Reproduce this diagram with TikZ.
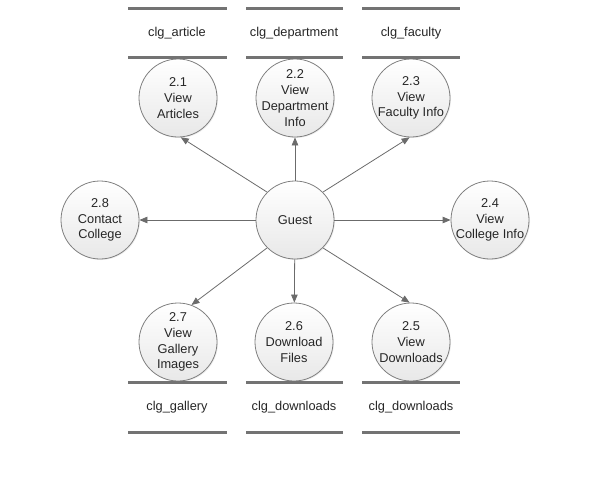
\documentclass[tikz,border=0pt]{standalone}
\usepackage{fontspec}
\setmainfont{Liberation Sans}
\usetikzlibrary{arrows.meta,shadows}

\begin{document}
\begin{tikzpicture}[x=1pt,y=-1pt,line cap=butt,
  proc/.style={circle,draw=black!50,line width=0.8pt,minimum size=78pt,inner sep=-14pt,
    top color=white,bottom color=black!9,align=center,text=black!85,
    drop shadow={shadow xshift=1pt,shadow yshift=-1pt,opacity=0.15},
    font=\fontsize{12.8}{15.8}\selectfont},
  flow/.style={draw=black!58,line width=0.8pt,-{Triangle[length=8pt,width=6.5pt]}},
  storeline/.style={draw=black!55,line width=3pt},
  storetext/.style={text=black!85,font=\fontsize{12.8}{15}\selectfont}]
  \useasboundingbox (0,0) rectangle (593,482);
  % processes
  \node[proc] (guest) at (295,220) {Guest};
  \node[proc] (p21) at (178,98) {2.1\\View\\Articles};
  \node[proc] (p22) at (295,98) {2.2\\View\\Department\\Info};
  \node[proc] (p23) at (411,98) {2.3\\View\\Faculty Info};
  \node[proc] (p24) at (490,220) {2.4\\View\\College Info};
  \node[proc] (p25) at (411,342) {2.5\\View\\Downloads};
  \node[proc] (p26) at (294,342) {2.6\\Download\\Files};
  \node[proc] (p27) at (178,342) {2.7\\View\\Gallery\\Images};
  \node[proc] (p28) at (100,220) {2.8\\Contact\\College};
  % data stores
  \draw[storeline] (128,8) -- (227,8) (128,57) -- (227,57);
  \draw[storeline] (246,8) -- (343,8) (246,57) -- (343,57);
  \draw[storeline] (362,8) -- (460,8) (362,57) -- (460,57);
  \draw[storeline] (128,382) -- (227,382) (128,432) -- (227,432);
  \draw[storeline] (246,382) -- (343,382) (246,432) -- (343,432);
  \draw[storeline] (362,382) -- (460,382) (362,432) -- (460,432);
  \node[storetext] (dsarticle) at (177,33) {clg\_article};
  \node[storetext] (dsdepartment) at (294,33) {clg\_department};
  \node[storetext] (dsfaculty) at (411,33) {clg\_faculty};
  \node[storetext] (dsgallery) at (177,407) {clg\_gallery};
  \node[storetext] (dsfiles) at (294,407) {clg\_downloads};
  \node[storetext] (dsdownloads) at (411,407) {clg\_downloads};
  % flows
  \draw[flow] (guest.135) -- (p21.-86);
  \draw[flow] (guest) -- (p22);
  \draw[flow] (guest.45) -- (p23.-92);
  \draw[flow] (guest) -- (p24);
  \draw[flow] (guest.-45) -- (p25.92);
  \draw[flow] (guest) -- (p26);
  \draw[flow] (guest.-135) -- (p27.70);
  \draw[flow] (guest) -- (p28);
\end{tikzpicture}
\end{document}
